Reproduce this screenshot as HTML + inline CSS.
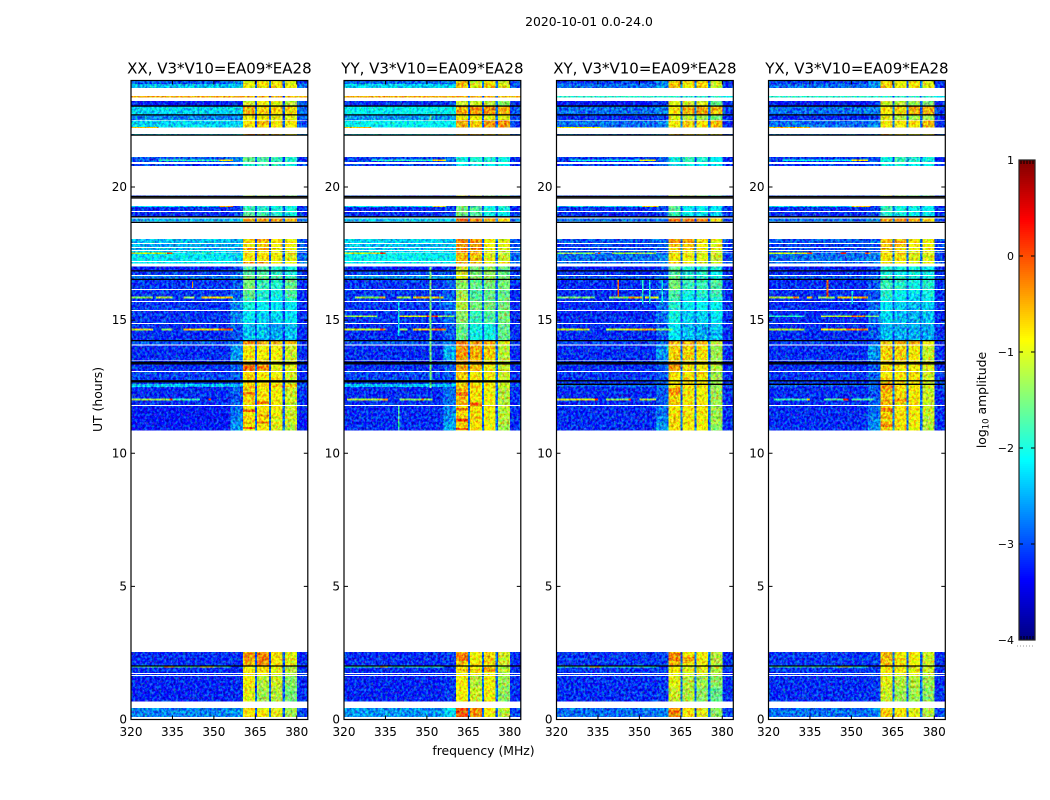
<!DOCTYPE html>
<html>
<head>
<meta charset="utf-8">
<title>2020-10-01 0.0-24.0</title>
<style>
html,body{margin:0;padding:0;background:#fff;}
svg{display:block;}
text{font-family:"DejaVu Sans","Liberation Sans",sans-serif;fill:#000;}
</style>
</head>
<body>
<svg id="chart" xmlns="http://www.w3.org/2000/svg" width="1050" height="800" viewBox="0 0 1050 800">
<defs>
<filter id="speckle" filterUnits="objectBoundingBox" x="0" y="0" width="1" height="1" color-interpolation-filters="sRGB">
<feTurbulence type="fractalNoise" baseFrequency="0.42 0.36" numOctaves="2" seed="4" result="n"/>
<feColorMatrix in="n" type="matrix" values="0 1.6 0 0 -0.3  2.4 0 0 0 -0.7  0 0 1.6 0 -0.3  0 0 0 0 1" result="m"/>
<feComposite in="SourceGraphic" in2="m" operator="arithmetic" k1="0" k2="1" k3="0.6" k4="-0.34" result="s"/>
<feComposite in="s" in2="SourceAlpha" operator="in"/>
</filter>
</defs>
</svg>
<script>
// Time bands shared by all panels: [upper hour, lower hour]
const timeBands = [
[24.00,23.87],[23.87,23.72],[23.42,23.36],[23.23,23.04],[23.02,22.73],[22.68,22.52],[22.49,22.24],[22.00,21.96],
[21.12,20.94],[20.87,20.79],[19.69,19.65],[19.29,19.09],[19.06,18.88],[18.81,18.70],[18.05,17.90],[17.86,17.75],
[17.71,17.63],[17.60,17.54],[17.52,17.22],[17.19,17.13],[17.01,16.86],[16.83,16.70],[16.66,16.54],[16.51,16.17],
[16.13,15.83],[15.83,15.72],[15.68,15.38],[15.34,14.89],[14.85,14.25],[14.22,14.09],[14.04,13.49],[13.46,13.09],
[13.05,12.60],[12.60,12.48],[12.48,11.81],[11.77,11.40],[11.40,11.10],[11.10,10.85],[2.54,2.00],[1.99,1.75],
[1.71,1.67],[1.64,1.20],[1.20,0.68],[0.43,0.09]
];
// Frequency spans in MHz: [low, high, column in the amplitude rows, or -1 for the channel notch]
const freqSpans = [
[320,356,0],[356,360.5,1],[360.5,364.8,2],[364.8,365.6,-1],[365.6,369.9,3],[369.9,370.7,-1],
[370.7,374.9,4],[374.9,375.7,-1],[375.7,380,5],[380,384,6]
];
// log10 amplitude per time band: background, shoulder, four spectral windows, upper tail
const ampXX = [
[-2.9,-2.7,-1.0,-0.8,-0.9,-1.0,-3.0],[-2.4,-2.4,-0.9,-0.8,-0.8,-0.9,-2.8],[-0.5,-0.5,-0.5,-0.5,-0.5,-0.6,-0.6],[-3.2,-3.1,-1.1,-0.9,-1.0,-1.2,-2.9],
[-2.3,-2.3,-0.5,-0.7,-0.7,-0.7,-2.8],[-2.7,-2.7,-0.9,-0.9,-1.0,-1.0,-2.9],[-2.3,-2.3,-0.8,-0.6,-0.8,-0.8,-2.9],[-2.3,-2.3,-0.5,-0.5,-0.8,-0.8,-2.8],
[-2.9,-2.7,-1.6,-1.7,-1.8,-1.9,-3.1],[-3.0,-2.8,-1.9,-1.8,-1.9,-2.0,-3.0],[-3.0,-2.9,-1.3,-1.3,-1.5,-1.5,-3.0],[-3.1,-3.0,-1.8,-1.9,-2.0,-2.0,-3.1],
[-3.1,-3.0,-1.7,-1.8,-1.9,-2.0,-3.1],[-2.5,-2.4,-0.6,-0.4,-0.5,-0.6,-2.8],[-2.4,-2.5,-0.7,-0.6,-0.8,-0.9,-2.9],[-2.5,-2.5,-0.8,-0.7,-0.9,-0.9,-2.9],
[-2.5,-2.5,-0.5,-0.4,-0.8,-0.9,-2.8],[-2.3,-2.5,-0.8,-0.8,-1.0,-1.0,-2.9],[-2.2,-2.3,-0.8,-0.8,-0.9,-1.0,-2.8],[-2.2,-2.3,-0.5,-0.5,-0.8,-0.9,-2.7],
[-3.2,-3.0,-1.7,-1.7,-1.9,-2.0,-3.1],[-3.0,-2.9,-1.7,-1.7,-1.9,-2.0,-3.1],[-2.8,-2.7,-1.5,-1.6,-1.7,-1.8,-2.9],[-3.05,-2.9,-1.5,-1.8,-1.9,-1.6,-3.1],
[-3.05,-2.9,-1.6,-1.9,-2.0,-1.7,-3.1],[-3.1,-2.7,-1.8,-2.0,-2.1,-1.9,-3.1],[-3.05,-2.7,-2.0,-2.1,-2.2,-2.2,-3.1],[-3.05,-2.7,-2.2,-2.3,-2.3,-2.2,-3.1],
[-3.1,-2.9,-2.4,-2.4,-2.5,-2.4,-3.1],[-2.9,-2.8,-0.4,-0.5,-0.5,-0.7,-3.0],[-3.1,-2.6,-0.8,-0.9,-0.9,-1.1,-3.1],[-3.1,-2.9,-0.5,-0.6,-1.0,-1.0,-3.1],
[-3.0,-2.9,-0.7,-0.8,-0.9,-1.1,-3.1],[-2.4,-2.4,-0.7,-0.7,-0.6,-0.7,-2.9],[-3.1,-2.9,-0.7,-0.8,-0.9,-1.1,-3.1],[-3.2,-2.8,-0.9,-0.8,-0.9,-1.1,-3.1],
[-3.2,-2.7,-0.7,-0.8,-1.0,-1.1,-3.2],[-3.2,-2.6,-0.9,-0.9,-1.0,-1.2,-3.2],[-3.1,-3.1,-0.6,-0.5,-0.8,-1.0,-3.1],[-3.1,-3.1,-0.8,-0.8,-1.0,-1.2,-3.1],
[-3.1,-3.1,-0.8,-0.8,-1.0,-1.2,-3.1],[-3.15,-3.1,-0.9,-1.2,-1.1,-1.4,-3.1],[-3.15,-3.1,-1.0,-1.3,-1.2,-1.5,-3.1],[-2.7,-2.6,-0.8,-0.9,-1.0,-1.3,-3.0]
];
const ampYY = [
[-2.8,-2.7,-0.6,-1.1,-0.8,-1.1,-3.0],[-2.3,-2.3,-0.6,-1.0,-0.7,-1.0,-2.9],[-0.5,-0.5,-0.5,-0.5,-0.5,-0.6,-0.6],[-3.1,-3.0,-1.1,-1.1,-1.2,-1.4,-3.1],
[-2.1,-2.1,-0.5,-0.4,-0.4,-0.5,-2.9],[-2.6,-2.6,-0.9,-0.9,-1.0,-1.0,-3.0],[-2.1,-2.1,-0.5,-0.7,-0.4,-0.4,-3.0],[-2.2,-2.2,-0.5,-0.5,-0.8,-0.8,-2.8],
[-3.0,-2.8,-2.0,-1.9,-1.9,-2.0,-3.1],[-3.0,-2.9,-2.1,-2.0,-2.1,-2.1,-3.1],[-3.0,-2.9,-1.1,-1.2,-1.5,-1.6,-3.0],[-3.1,-3.0,-1.5,-1.7,-2.0,-2.0,-3.1],
[-3.1,-3.0,-1.5,-1.7,-2.0,-2.1,-3.1],[-2.4,-2.3,-0.1,-0.3,-0.5,-0.7,-2.8],[-2.3,-2.4,-0.3,-0.4,-0.9,-1.0,-2.9],[-2.4,-2.4,-0.4,-0.4,-0.9,-1.0,-2.9],
[-2.4,-2.4,-0.3,-0.4,-0.9,-1.0,-2.8],[-2.3,-2.4,-0.4,-0.5,-1.0,-1.1,-2.9],[-2.1,-2.2,-0.6,-0.6,-1.0,-1.1,-2.8],[-2.2,-2.2,-0.5,-0.6,-0.9,-0.8,-2.7],
[-3.2,-3.0,-1.1,-1.5,-1.4,-1.6,-3.1],[-3.0,-2.9,-1.1,-1.5,-1.4,-1.6,-3.1],[-2.6,-2.6,-1.0,-1.4,-1.3,-1.5,-2.9],[-3.05,-2.9,-1.4,-1.6,-1.5,-1.5,-3.1],
[-3.05,-2.9,-1.3,-1.7,-1.6,-1.6,-3.1],[-3.05,-2.8,-1.2,-1.6,-1.6,-1.5,-3.1],[-3.05,-2.8,-1.2,-1.5,-1.5,-1.5,-3.1],[-3.05,-2.8,-1.4,-1.8,-1.7,-1.5,-3.1],
[-3.1,-2.9,-1.6,-2.0,-2.0,-1.6,-3.1],[-2.9,-2.8,-0.3,-0.4,-0.5,-1.0,-3.0],[-3.1,-2.5,-0.4,-0.5,-0.7,-1.2,-3.1],[-3.1,-2.9,-0.5,-0.6,-0.9,-1.1,-3.1],
[-3.0,-2.9,-0.7,-0.8,-0.9,-1.1,-3.1],[-2.4,-2.4,-0.6,-0.7,-0.8,-1.1,-2.9],[-3.1,-2.8,-0.6,-0.8,-0.9,-1.2,-3.1],[-3.1,-2.7,-0.8,-0.8,-0.9,-1.2,-3.1],
[-3.1,-2.6,-0.6,-0.7,-0.9,-1.2,-3.1],[-3.1,-2.5,-0.7,-0.8,-0.9,-1.3,-3.1],[-3.1,-3.05,-0.6,-0.9,-0.7,-1.1,-3.1],[-3.1,-3.05,-0.9,-0.9,-0.9,-1.2,-3.1],
[-3.1,-3.05,-0.9,-0.9,-0.9,-1.2,-3.1],[-3.15,-3.05,-0.9,-1.2,-0.9,-1.3,-3.1],[-3.15,-3.05,-0.9,-1.1,-0.9,-1.4,-3.1],[-2.6,-2.3,-0.1,-0.4,-0.9,-1.2,-3.0]
];
const ampXY = [
[-3.0,-2.7,-0.7,-0.8,-0.7,-1.1,-3.1],[-2.8,-2.6,-0.6,-0.9,-0.7,-1.1,-3.0],[-1.9,-1.9,-1.9,-1.9,-1.9,-1.9,-2.2],[-3.2,-3.1,-1.0,-1.1,-1.1,-1.6,-3.1],
[-2.8,-2.7,-0.8,-0.6,-0.5,-0.6,-3.0],[-3.1,-3.0,-1.0,-1.2,-1.3,-1.5,-3.1],[-2.8,-2.7,-0.9,-0.7,-0.8,-0.6,-3.1],[-2.7,-2.7,-0.6,-0.7,-0.9,-0.9,-2.9],
[-3.05,-2.9,-2.0,-1.8,-1.9,-2.1,-3.1],[-3.05,-2.9,-2.1,-2.0,-2.1,-2.1,-3.1],[-3.0,-2.9,-1.2,-1.4,-1.5,-1.7,-3.0],[-3.1,-3.0,-1.6,-2.2,-2.1,-2.2,-3.1],
[-3.1,-3.0,-1.8,-2.1,-2.2,-2.3,-3.1],[-2.8,-2.7,-0.3,-0.3,-0.4,-0.7,-3.0],[-2.9,-2.8,-0.4,-0.5,-0.8,-1.0,-3.0],[-3.0,-2.9,-0.6,-0.7,-0.9,-1.0,-3.0],
[-3.0,-2.9,-0.7,-0.7,-0.9,-1.0,-3.0],[-2.9,-2.9,-0.7,-0.8,-1.0,-1.0,-3.0],[-2.8,-2.7,-0.8,-0.9,-1.0,-1.1,-3.0],[-2.8,-2.7,-0.7,-0.8,-1.0,-1.1,-2.9],
[-3.2,-3.0,-1.6,-1.9,-1.9,-2.0,-3.1],[-3.1,-3.0,-1.7,-2.0,-1.9,-2.1,-3.1],[-2.9,-2.8,-1.6,-1.8,-1.9,-2.0,-3.0],[-3.1,-2.9,-1.5,-1.8,-1.8,-1.7,-3.1],
[-3.1,-2.9,-1.7,-2.0,-1.9,-1.8,-3.1],[-3.1,-2.8,-1.8,-2.2,-2.1,-1.9,-3.1],[-3.1,-2.8,-1.9,-2.1,-2.1,-2.1,-3.1],[-3.1,-2.8,-2.0,-2.3,-2.3,-2.2,-3.1],
[-3.1,-2.9,-2.2,-2.4,-2.5,-2.4,-3.1],[-3.0,-2.9,-0.6,-0.5,-0.6,-1.1,-3.1],[-3.1,-2.6,-0.7,-0.7,-0.8,-1.3,-3.1],[-3.1,-2.9,-0.6,-0.8,-0.8,-1.2,-3.1],
[-3.05,-2.9,-0.8,-0.8,-0.8,-1.3,-3.1],[-2.85,-2.8,-0.8,-0.8,-0.8,-1.3,-3.0],[-3.1,-2.9,-0.7,-0.8,-0.9,-1.3,-3.1],[-3.1,-2.8,-0.8,-0.8,-0.8,-1.3,-3.1],
[-3.1,-2.7,-0.7,-0.8,-0.9,-1.3,-3.1],[-3.1,-2.6,-0.8,-0.9,-0.9,-1.4,-3.1],[-3.05,-3.0,-0.6,-0.8,-0.9,-1.2,-3.1],[-3.05,-3.0,-0.9,-1.0,-1.0,-1.2,-3.1],
[-3.05,-3.0,-0.9,-1.0,-1.0,-1.2,-3.1],[-3.1,-3.05,-1.0,-1.2,-1.3,-1.4,-3.1],[-3.1,-3.05,-1.1,-1.2,-1.4,-1.6,-3.1],[-2.8,-2.7,-0.5,-0.8,-1.0,-1.4,-3.0]
];
const ampYX = [
[-3.0,-2.7,-0.8,-0.9,-0.8,-1.0,-3.1],[-2.8,-2.6,-0.7,-0.9,-0.8,-1.0,-3.0],[-1.9,-1.9,-1.9,-1.9,-1.9,-1.9,-2.2],[-3.2,-3.1,-1.1,-1.2,-1.3,-1.5,-3.1],
[-2.8,-2.7,-0.8,-0.7,-0.5,-0.5,-3.0],[-3.1,-3.0,-1.0,-1.2,-1.3,-1.3,-3.1],[-2.8,-2.7,-0.8,-0.8,-0.8,-0.6,-3.1],[-2.7,-2.7,-0.6,-0.7,-0.9,-0.9,-2.9],
[-3.05,-2.9,-2.0,-1.8,-1.9,-2.0,-3.1],[-3.05,-2.9,-2.1,-2.0,-2.1,-2.1,-3.1],[-3.0,-2.9,-1.2,-1.4,-1.5,-1.6,-3.0],[-3.1,-3.0,-1.8,-2.0,-2.0,-2.1,-3.1],
[-3.1,-3.0,-1.9,-2.0,-2.1,-2.2,-3.1],[-2.8,-2.7,-0.5,-0.4,-0.5,-0.8,-3.0],[-2.9,-2.8,-0.6,-0.5,-0.8,-0.9,-3.0],[-3.0,-2.9,-0.6,-0.6,-0.9,-0.9,-3.0],
[-3.0,-2.9,-0.6,-0.7,-0.9,-0.9,-3.0],[-2.9,-2.9,-0.7,-0.8,-1.0,-1.0,-3.0],[-2.8,-2.7,-0.8,-0.8,-1.0,-1.0,-3.0],[-2.8,-2.7,-0.7,-0.8,-1.0,-0.9,-2.9],
[-3.2,-3.0,-1.9,-2.0,-2.0,-2.1,-3.1],[-3.1,-3.0,-2.0,-2.1,-2.0,-2.1,-3.1],[-2.9,-2.8,-1.8,-1.9,-2.0,-2.0,-3.0],[-3.1,-2.9,-1.8,-1.9,-2.0,-1.9,-3.1],
[-3.1,-2.9,-1.9,-2.1,-2.2,-2.0,-3.1],[-3.1,-2.8,-2.0,-2.2,-2.3,-2.1,-3.1],[-3.1,-2.8,-2.2,-2.3,-2.4,-2.3,-3.1],[-3.1,-2.8,-2.3,-2.4,-2.5,-2.4,-3.1],
[-3.1,-2.9,-2.4,-2.5,-2.5,-2.5,-3.1],[-3.0,-2.9,-0.6,-0.6,-0.6,-0.9,-3.1],[-3.1,-2.6,-0.7,-0.7,-0.8,-1.1,-3.1],[-3.1,-2.9,-0.7,-0.8,-0.9,-1.0,-3.1],
[-3.05,-2.9,-0.8,-0.8,-0.8,-1.1,-3.0],[-2.85,-2.8,-0.7,-0.8,-0.8,-1.1,-3.0],[-3.1,-2.9,-0.6,-0.8,-0.8,-1.1,-3.1],[-3.1,-2.8,-0.7,-0.8,-0.8,-1.1,-3.1],
[-3.1,-2.7,-0.6,-0.8,-0.9,-1.2,-3.1],[-3.1,-2.6,-0.7,-0.8,-0.9,-1.2,-3.1],[-3.05,-3.0,-0.6,-0.8,-0.9,-1.1,-3.1],[-3.05,-3.0,-0.8,-0.9,-1.0,-1.1,-3.1],
[-3.05,-3.0,-0.8,-0.9,-1.0,-1.1,-3.1],[-3.1,-3.05,-1.0,-1.2,-1.2,-1.3,-3.1],[-3.1,-3.05,-1.1,-1.3,-1.3,-1.4,-3.1],[-2.8,-2.7,-0.7,-0.8,-1.0,-1.2,-3.0]
];
// Interference segments and stripes: [low MHz, high MHz, upper hour, lower hour, log10 amplitude]
const rfiXX = [
[320,328,15.88,15.81,-1.4],[329,335,15.88,15.81,-1.2],[339,343,15.88,15.81,-1.4],[345.5,357,15.88,15.81,-0.7],
[320,328,14.68,14.61,-1.1],[331,335,14.68,14.61,-1.4],[339,352,14.68,14.61,-0.7],[352,357,14.68,14.61,-0.2],
[320,334,12.06,11.99,-1.3],[334,335,12.06,11.99,0.1],[335,345,12.06,11.99,-1.8],[348,349,12.06,11.99,0.2],
[320,333,17.54,17.48,-1.1],[333,335,17.54,17.48,0.1],[340,350,17.54,17.48,-1.8],
[334,335,19.29,19.24,0.2],[352,357,19.29,19.24,-0.4],[320,352,19.29,19.24,-2.3],
[330,352,21.03,20.98,-1.9],[352,357,21.03,20.98,-0.8],[320,330,22.26,22.22,-0.6],
[320,356,2.00,1.95,-1.7],[332,336,2.00,1.95,-0.6],[345,350,2.00,1.95,-1.0],
[342,342.5,16.45,16.2,-0.3],
[360.5,364.8,13.3,13.1,-0.2],[365.6,369.9,13.3,13.15,-0.3],[360.5,364.8,11.65,11.55,-0.1],[365.6,369.9,11.95,11.85,-0.2],
[360.5,364.8,12.3,12.2,-0.2],[365.6,369.9,11.2,11.12,-0.2],[360.5,364.8,10.98,10.92,-0.1],[365.6,369.9,11.45,11.38,-0.3],
[360.5,364.8,2.5,2.2,-0.4],[365.6,369.9,2.5,2.1,-0.3]
];
const rfiYY = [
[324,333,15.88,15.81,-1.4],[333,335,15.88,15.81,-0.5],[339,344,15.88,15.81,-1.3],[345,356,15.88,15.81,-0.6],
[320,332,15.18,15.11,-1.3],[340,350,15.18,15.11,-1.0],[350,354,15.18,15.11,0.0],[354,360,15.18,15.11,-1.4],
[320,333,14.68,14.61,-1.1],[333,335,14.68,14.61,-0.2],[340,343,14.68,14.61,-1.3],[345,351,14.68,14.61,-0.7],[351,357,14.68,14.61,-0.3],
[321,334,12.06,11.99,-1.2],[334,336,12.06,11.99,-0.4],[340,352,12.06,11.99,-1.4],[348,349,12.06,11.99,-0.3],
[320,333,17.54,17.48,-1.1],[333,335,17.54,17.48,0.2],
[335,336,19.29,19.24,0.2],[320,352,19.29,19.24,-2.3],[352,357,19.29,19.24,-1.0],
[330,352,21.03,20.98,-1.9],[352,357,21.03,20.98,-0.8],[320,330,22.26,22.22,-0.6],
[320,356,2.00,1.95,-1.8],[333,336,2.00,1.95,-0.7],
[351,351.6,17.0,12.45,-1.5],[351,351.6,22.68,22.52,-1.5],[339.5,340,11.77,10.85,-1.7],[339.5,340,15.7,14.4,-2.2],[354.5,355,16.0,15.55,-2.0],
[360.5,364.8,12.3,12.15,-0.2],[360.5,364.8,11.7,11.6,-0.1],[365.6,369.9,11.9,11.75,-0.2],[360.5,364.8,10.95,10.88,-0.1],[360.5,364.8,11.3,11.2,-0.1],
[360.5,364.8,2.5,2.2,-0.3],[360.5,364.8,1.9,1.8,-0.6],[365.6,369.9,1.9,1.8,-0.5],[370.7,374.9,1.95,1.78,-0.5]
];
const rfiXY = [
[320,334,15.88,15.81,-1.5],[339,346,15.88,15.81,-1.4],[346,351,15.88,15.81,-0.5],[352,357,15.88,15.81,-0.9],
[320,332,14.68,14.61,-1.1],[338,345,14.68,14.61,-1.2],[345,350,14.68,14.61,-0.8],[350,356,14.68,14.61,-0.5],[356,362,14.68,14.61,-1.4],
[320,334,12.06,11.99,-1.0],[334,335,12.06,11.99,0.2],[338,346,12.06,11.99,-1.4],[346,347,12.06,11.99,0.2],[350,356,12.06,11.99,-1.2],
[320,334,17.54,17.48,-1.4],[335,336,17.54,17.48,0.0],[340,356,17.54,17.48,-1.3],
[335,336,19.29,19.24,0.2],[320,352,19.29,19.24,-2.3],[351,357,19.29,19.24,-0.7],
[325,352,21.03,20.98,-2.1],[350,356,21.03,20.98,-1.0],[320,336,22.26,22.22,-0.9],
[320,356,2.00,1.95,-1.8],[332,336,2.00,1.95,-0.8],
[342,342.7,16.5,15.85,-0.1],[351,351.5,16.5,15.6,-1.9],[353.5,354,16.5,15.6,-2.0],[358,358.5,16.5,15.6,-2.0],
[360.5,364.8,12.45,12.2,-0.4],[360.5,364.8,13.3,13.1,-0.4],[360.5,364.8,2.5,2.2,-0.3],[365.6,369.9,2.35,2.2,-0.4],[360.5,364.8,0.35,0.12,-0.3]
];
const rfiYX = [
[320,330,15.88,15.81,-1.2],[329,331,15.88,15.81,-0.2],[334,336,15.88,15.81,-0.4],[338,344,15.88,15.81,-1.4],[345,352,15.88,15.81,-0.7],[352,356,15.88,15.81,-0.4],
[320,333,15.18,15.11,-1.9],[339,350,15.18,15.11,-1.2],[350,355,15.18,15.11,-0.3],[355,360,15.18,15.11,-1.5],
[320,333,14.68,14.61,-1.2],[339,348,14.68,14.61,-0.9],[348,353,14.68,14.61,-0.4],[353,356,14.68,14.61,-0.2],
[322,334,12.06,11.99,-1.8],[334,335,12.06,11.99,-0.6],[340,347,12.06,11.99,-1.7],[347,349,12.06,11.99,0.2],[350,358,12.06,11.99,-1.7],
[320,335,17.54,17.48,-1.0],[334,336,17.54,17.48,0.1],[346,348,17.54,17.48,0.2],[355,357,17.54,17.48,-0.2],
[335,336,19.29,19.24,0.2],[320,352,19.29,19.24,-2.3],[350,357,19.29,19.24,-0.6],
[325,352,21.03,20.98,-2.1],[350,356,21.03,20.98,-0.8],[320,335,22.26,22.22,-0.6],
[320,356,2.00,1.95,-1.8],[345,350,2.00,1.95,-1.2],
[341,341.7,16.5,15.85,-0.1],[350,350.5,16.1,15.6,-2.0],
[360.5,364.8,12.65,12.35,-0.4],[360.5,364.8,11.7,11.55,-0.3],[360.5,364.8,11.1,10.98,-0.4],[365.6,369.9,12.1,11.95,-0.4]
];
// Flagged integrations drawn in black (hours)
const flagHours = [23.04,22.71,21.95,19.64,19.59,18.88,18.67,16.85,16.53,14.23,13.41,13.36,12.72,2.01];
const flagHoursParallel = [12.68];
const flagHoursCross = [12.59];
const notchLevel = [-2.9,-2.8,-2.8,-2.8];
const panelTitles = ["XX, V3*V10=EA09*EA28","YY, V3*V10=EA09*EA28","XY, V3*V10=EA09*EA28","YX, V3*V10=EA09*EA28"];
const panelKeys = ["xx","yy","xy","yx"];
const panelAmps = [ampXX,ampYY,ampXY,ampYX];
const panelRfi = [rfiXX,rfiYY,rfiXY,rfiYX];
const freqTicks = [320,335,350,365,380];
const hourTicks = [0,5,10,15,20];
const cbarTicks = [-4,-3,-2,-1,0,1];

const svg = document.getElementById('chart');
const NS = 'http://www.w3.org/2000/svg';
const panelLefts = [131,344,556.5,768.5];
const panelWidth = 176.8;
const plotTop = 80.5, plotBottom = 719.5;
const freqMin = 320, freqMax = 384, hourMin = 0, hourMax = 24;

function xScale(left, f){ return left + (f - freqMin) / (freqMax - freqMin) * panelWidth; }
function yScale(h){ return plotBottom - (h - hourMin) / (hourMax - hourMin) * (plotBottom - plotTop); }
function clip01(v){ return Math.max(0, Math.min(1, v)); }
function jet(v){
  const t = clip01((v + 4) / 5);
  const r = clip01(1.5 - Math.abs(4 * t - 3));
  const g = clip01(1.5 - Math.abs(4 * t - 2));
  const b = clip01(1.5 - Math.abs(4 * t - 1));
  return 'rgb(' + Math.round(r * 255) + ',' + Math.round(g * 255) + ',' + Math.round(b * 255) + ')';
}
function mk(tag, attrs, parent, txt){
  const el = document.createElementNS(NS, tag);
  for (const k in attrs) el.setAttribute(k, attrs[k]);
  if (txt !== undefined) el.textContent = txt;
  (parent || svg).appendChild(el);
  return el;
}
function tickLine(parent, x1, y1, x2, y2, name){
  const el = mk('line', {x1:x1, y1:y1, x2:x2, y2:y2, stroke:'#000', 'stroke-width':1}, parent);
  
  
  return el;
}

panelKeys.forEach(function(key, p){
  const left = panelLefts[p];
  const right = left + panelWidth;
  const panel = mk('g', {});
  
  

  const heat = mk('g', {filter:'url(#speckle)', 'shape-rendering':'crispEdges'}, panel);
  
  

  timeBands.forEach(function(band, b){
    freqSpans.forEach(function(span){
      const value = span[2] < 0 ? notchLevel[p] : panelAmps[p][b][span[2]];
      const x0 = xScale(left, span[0]), x1 = xScale(left, span[1]);
      const y0 = yScale(band[0]), y1 = yScale(band[1]);
      const cell = mk('rect', {x:x0, y:y0, width:x1 - x0, height:y1 - y0, fill:jet(value)}, heat);
      
      
    });
  });
  panelRfi[p].forEach(function(seg){
    const x0 = xScale(left, seg[0]), x1 = xScale(left, seg[1]);
    const y0 = yScale(seg[2]), y1 = yScale(seg[3]);
    const mark = mk('rect', {x:x0, y:y0, width:x1 - x0, height:y1 - y0, fill:jet(seg[4])}, heat);
    
    
  });

  const extraFlags = p < 2 ? flagHoursParallel : flagHoursCross;
  flagHours.concat(extraFlags).forEach(function(h){
    const line = mk('line', {x1:left, x2:right, y1:yScale(h), y2:yScale(h), stroke:'#000', 'stroke-width':1.3}, panel);
    
    
  });

  freqTicks.forEach(function(f){
    const x = xScale(left, f);
    tickLine(panel, x, plotBottom, x, plotBottom - 4, key + '-x-tick');
    tickLine(panel, x, plotTop, x, plotTop + 4, key + '-x-tick-top');
    const label = mk('text', {x:x, y:736, 'text-anchor':'middle', 'font-size':12}, panel, String(f));
    
    
  });
  hourTicks.forEach(function(h){
    const y = yScale(h);
    tickLine(panel, left, y, left + 4, y, key + '-y-tick');
    tickLine(panel, right, y, right - 4, y, key + '-y-tick-right');
    const label = mk('text', {x:left - 4, y:y + 4, 'text-anchor':'end', 'font-size':12}, panel, String(h));
    
    
  });

  const frame = mk('rect', {x:left, y:plotTop, width:panelWidth, height:plotBottom - plotTop, fill:'none', stroke:'#000', 'stroke-width':1.2}, panel);
  
  

  const title = mk('text', {x:left + panelWidth / 2, y:73.5, 'text-anchor':'middle', 'font-size':15}, panel, panelTitles[p]);
  
  
});

const supTitle = mk('text', {x:589, y:26, 'text-anchor':'middle', 'font-size':12.4}, svg, '2020-10-01 0.0-24.0');



const xTitle = mk('text', {x:483.5, y:755, 'text-anchor':'middle', 'font-size':12.4}, svg, 'frequency (MHz)');



const yTitle = mk('text', {x:0, y:0, 'text-anchor':'middle', 'font-size':12.4, transform:'translate(102,399.5) rotate(-90)'}, svg, 'UT (hours)');



// Colorbar
const cbarLeft = 1019, cbarRight = 1035, cbarTop = 160, cbarBottom = 640;
const cbarMin = -4, cbarMax = 1;
function cbarY(v){ return cbarBottom - (v - cbarMin) / (cbarMax - cbarMin) * (cbarBottom - cbarTop); }
const cbar = mk('g', {});


const ramp = mk('g', {'shape-rendering':'crispEdges'}, cbar);


for (let i = 0; i < 240; i++){
  const v = cbarMin + (i + 0.5) / 240 * (cbarMax - cbarMin);
  const stepTop = cbarY(cbarMin + (i + 1) / 240 * (cbarMax - cbarMin));
  const step = mk('rect', {x:cbarLeft, y:stepTop, width:cbarRight - cbarLeft, height:2.2, fill:jet(v)}, ramp);
  
  
}
[1021,1024,1027,1030,1033].forEach(function(x){
  tickLine(cbar, x, cbarTop, x, cbarTop + 4, 'colorbar-end-tick');
  tickLine(cbar, x, cbarBottom, x, cbarBottom - 4, 'colorbar-end-tick');
});
cbarTicks.forEach(function(v){
  const y = cbarY(v);
  tickLine(cbar, cbarLeft, y, cbarLeft + 4, y, 'colorbar-tick');
  tickLine(cbar, cbarRight, y, cbarRight - 4, y, 'colorbar-tick-right');
  const text = (v < 0 ? '\u2212' + Math.abs(v) : String(v));
  const label = mk('text', {x:1014, y:y + 4, 'text-anchor':'end', 'font-size':11}, cbar, text);
  
  
});
const cbarFrame = mk('rect', {x:cbarLeft, y:cbarTop, width:cbarRight - cbarLeft, height:cbarBottom - cbarTop, fill:'none', stroke:'#222', 'stroke-width':1.2}, cbar);


const dots = mk('line', {x1:1017, x2:1035, y1:646, y2:646, stroke:'#999', 'stroke-width':1, 'stroke-dasharray':'1 2'}, cbar);



const cbarTitle = mk('text', {x:0, y:0, 'text-anchor':'middle', 'font-size':12.4, transform:'translate(986,400) rotate(-90)'}, cbar);


const t1 = mk('tspan', {}, cbarTitle, 'log');
const t2 = mk('tspan', {dy:2.5, 'font-size':8.5}, cbarTitle, '10');
const t3 = mk('tspan', {dy:-2.5}, cbarTitle, ' amplitude');
</script>
</body>
</html>
